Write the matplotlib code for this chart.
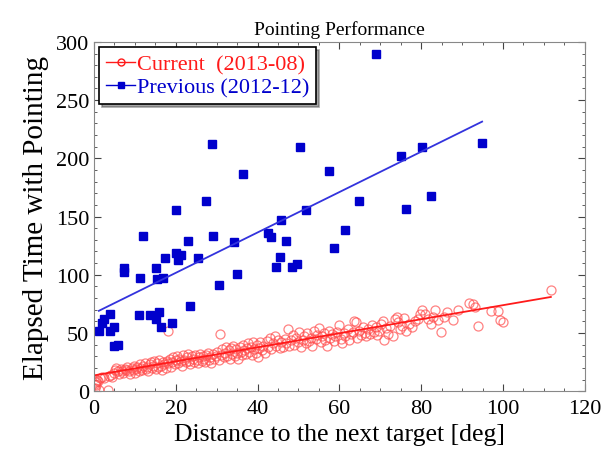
import matplotlib
matplotlib.use("Agg")
import matplotlib.pyplot as plt
from matplotlib.ticker import MultipleLocator

plt.rcParams['font.family'] = ['Liberation Serif', 'DejaVu Serif']
plt.rcParams['xtick.direction'] = 'in'
plt.rcParams['ytick.direction'] = 'in'

# Previous (2012-12)
prev_x = [1.3, 1.9, 2.5, 4.0, 4.0, 4.8, 4.8, 6.0, 7.4, 7.4, 11.3, 11.1, 11.9, 13.8,
          15.1, 15.1, 15.5, 16.0, 16.5, 16.8, 17.4, 19.2, 20.0, 20.0, 20.6, 21.4,
          22.9, 23.4, 25.5, 27.3, 28.9, 29.1, 30.5, 34.2, 35.0, 36.5, 42.6, 43.2,
          44.4, 45.5, 45.7, 46.9, 48.3, 49.7, 50.4, 51.9, 57.5, 58.8, 61.5, 64.7,
          69.0, 75.1, 76.3, 80.2, 82.4, 94.9]
prev_y = [51.5, 58.8, 62, 66.6, 51.5, 55.4, 39, 39.5, 105.5, 102, 97, 65, 133.5, 65,
          105.5, 61.6, 96.3, 67.7, 55, 97, 114, 58.8, 156, 118.7, 112.5, 116.7,
          129.3, 73.3, 114.5, 163.7, 211.9, 133, 91, 128.5, 100.8, 186.7, 135.7, 132.4,
          107, 115.3, 147, 129.3, 106.4, 108.9, 209.3, 155.3, 188.9, 123.1, 138.8, 163.7,
          289.4, 201.8, 156.5, 209.3, 167.6, 213.5]
prev_fit_x = [1.2, 94.9]
prev_fit_y = [69, 231.5]

# Current (2013-08)
cur_x = [0.2, 0.3, 0.4, 0.6, 0.8, 1.0, 1.2, 1.5, 2.0, 2.5, 3.5, 3.8, 4.2, 4.5, 4.8,
         5.2, 5.5, 5.8, 6.2, 6.5, 6.8, 7.2, 7.5, 7.8, 8.2, 8.5, 8.8, 9.2, 9.5, 9.8, 10.0,
         10.3, 10.6, 10.9, 11.2, 11.5, 11.8, 12.1, 12.4, 12.7, 13.0, 13.3, 13.6, 13.9,
         14.2, 14.5, 14.8, 15.1, 15.4, 15.7, 16.0, 16.3, 16.6, 16.9, 17.2, 17.5, 17.8,
         18.0, 18.2, 18.5, 18.8, 19.1, 19.4, 19.7, 20.0,
         20.3, 20.6, 20.9, 21.2, 21.5, 21.8, 22.1, 22.4, 22.7, 23.0, 23.3, 23.6, 23.9,
         24.2, 24.5, 24.8, 25.1, 25.4, 25.7, 26.0, 26.3, 26.6, 26.9, 27.2, 27.5, 27.8,
         28.1, 28.4, 28.7, 29.0, 29.4, 29.8,
         30.2, 30.5, 30.8, 31.1, 31.4, 31.7, 32.0, 32.3, 32.6, 32.9, 33.2, 33.5, 33.8,
         34.1, 34.4, 34.7, 35.0, 35.3, 35.6, 35.9, 36.2, 36.5, 36.8, 37.1, 37.4, 37.7,
         38.0, 38.3, 38.6, 38.9, 39.2, 39.5, 39.8,
         40.1, 40.4, 40.7, 41.0, 41.4, 41.8, 42.2, 42.6, 43.0, 43.4, 43.8, 44.2, 44.6,
         45.0, 45.4, 45.8, 46.2, 46.6, 47.0, 47.4, 47.8, 48.2, 48.6, 49.0, 49.4, 49.8,
         50.2, 50.6, 51.0, 51.4, 51.8, 52.2, 52.6, 53.0, 53.4, 53.8, 54.2, 54.6, 55.0,
         55.4, 55.8, 56.2, 56.6, 57.0, 57.4, 57.8, 58.2, 58.6, 59.0, 59.4, 59.8,
         60.3, 60.7, 61.1, 61.5, 62.0, 62.4, 62.8, 63.3, 63.7, 64.0, 64.4, 64.8, 65.3,
         65.7, 66.2, 66.6, 67.1, 67.5, 68.0, 68.4, 68.9, 69.3, 69.8,
         70.2, 70.6, 71.0, 71.5, 72.0, 72.5, 73.0, 73.5, 74.0, 74.4, 74.8, 75.3, 75.7,
         76.2, 77.0, 77.8, 78.5, 79.3, 79.8,
         80.3, 81.0, 81.7, 82.3, 82.8, 83.5, 84.2, 84.8, 85.5, 86.3, 87.8, 89.0, 91.8,
         92.6, 93.2, 94.0, 97.0, 98.8, 99.2, 100.0, 111.8]
cur_y = [3, 6, 8, 5, 10, 9, 1, 11, 12, 11, 1, 13, 14, 12, 16,
         18, 20, 17, 15, 19, 17, 16, 19, 18, 21, 17, 15, 20, 18, 22, 16,
         19, 21, 17, 23, 20, 18, 22, 24, 19, 21, 17, 23, 25,
         20, 22, 26, 19, 24, 21, 27, 22, 18, 25, 23, 20, 26,
         52, 24, 28, 21, 25, 29, 23, 27,
         30, 24, 28, 26, 22, 31, 27, 25, 29, 32, 26, 23, 30,
         28, 25, 31, 27, 24, 29, 32, 26, 30, 28, 25, 31, 33,
         27, 29, 24, 32, 28, 30,
         34, 27, 49, 31, 36, 29, 33, 38, 30, 35, 28, 37, 32,
         39, 30, 36, 33, 28, 38, 34, 31, 40, 35, 32, 37, 41,
         34, 38, 31, 42, 36, 33, 40,
         29, 37, 42, 35, 39, 33, 43, 38, 46, 36, 41, 47, 39,
         44, 37, 42, 38, 45, 41, 53, 39, 44, 48, 40, 46, 42,
         51, 38, 44, 47, 41, 50, 43, 46, 39, 52, 45, 48, 54,
         42, 47, 50, 44, 39, 52, 46, 49, 43, 47, 51, 57,
         45, 41, 50, 47, 53, 44, 49, 51, 60, 59, 46, 52, 48,
         55, 50, 47, 53, 49, 57, 51, 55, 48, 52,
         58, 60, 44, 54, 49, 56, 47, 62, 64, 59, 53, 56, 63,
         52, 58, 55, 60, 62, 66,
         70, 66, 62, 58, 64, 70, 61, 51, 64, 68, 61, 70, 76,
         75, 72, 56, 69, 69, 61, 59, 87]
cur_fit_x = [0.3, 111.7]
cur_fit_y = [13.7, 80.9]

fig = plt.figure(figsize=(6.06, 4.56), dpi=100)
ax = fig.add_axes([0.155, 0.14, 0.81, 0.766])

ax.plot(cur_x, cur_y, 'o', mfc='none', mec='#ff4d4d', mew=0.9, ms=6.5, alpha=0.7)
ax.plot(cur_fit_x, cur_fit_y, '-', color='#ff1a1a', lw=1.3)
ax.plot(prev_x, prev_y, 's', color='#0000cc', ms=6)
ax.plot(prev_fit_x, prev_fit_y, '-', color='#3333dd', lw=1.3)

# legend handles
h1, = ax.plot([], [], '-o', color='#ff1a1a', mfc='none', ms=5, lw=1)
h2, = ax.plot([], [], '-s', color='#0000cc', ms=5, lw=1)
leg = ax.legend([h1, h2], ["Current  (2013-08)", "Previous (2012-12)"],
                loc='upper left', fontsize=16, fancybox=False, shadow=True,
                handlelength=1.3, handletextpad=0.1, borderpad=0.3,
                labelspacing=0.1, borderaxespad=0.25, framealpha=1)
leg.get_frame().set_edgecolor('black')
leg.get_frame().set_linewidth(1.2)
for t, c in zip(leg.get_texts(), ['#ff1a1a', '#0000cc']):
    t.set_color(c)

ax.set_xlim(0, 120)
ax.set_ylim(0, 300)
ax.xaxis.set_major_locator(MultipleLocator(20))
ax.xaxis.set_minor_locator(MultipleLocator(5))
ax.yaxis.set_major_locator(MultipleLocator(50))
ax.yaxis.set_minor_locator(MultipleLocator(10))
ax.tick_params(which='both', top=True, right=True, colors='#444444', labelcolor='black')
ax.tick_params(which='major', length=5, labelsize=16)
ax.tick_params(axis='x', which='major', pad=6)
ax.tick_params(which='minor', length=2.5)
for s in ax.spines.values():
    s.set_color('#888888')

ax.set_title("Pointing Performance", fontsize=14, pad=6)
ax.set_xlabel("Distance to the next target [deg]", fontsize=18.5, labelpad=3)
ax.set_ylabel("Elapsed Time with Pointing", fontsize=21, labelpad=5)

fig.savefig("out.png", dpi=100)
